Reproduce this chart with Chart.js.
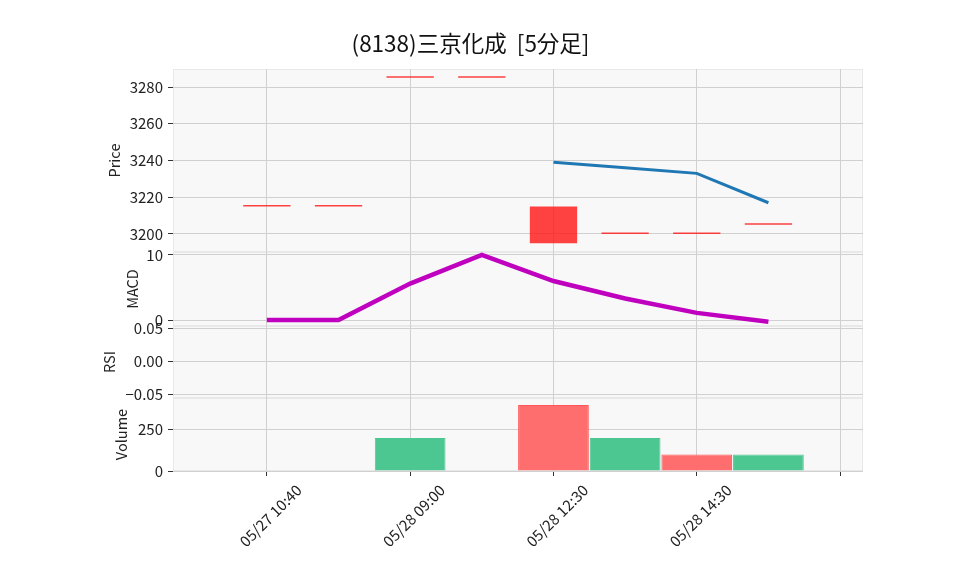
<!DOCTYPE html>
<html>
<head>
<meta charset="utf-8">
<script src="https://cdn.jsdelivr.net/npm/chart.js@4"></script>
<style>
  html, body { margin: 0; padding: 0; background: #fff; }
  #wrap { width: 958px; height: 575px; }
</style>
</head>
<body>
<div id="wrap"><canvas id="chart"></canvas></div>
<script>
// 5-minute candles, index 0..7
const openPrice  = [3215, 3215, 3285, 3285, 3215, 3200, 3200, 3205];
const closePrice = [3215, 3215, 3285, 3285, 3195, 3200, 3200, 3205];
const maLine     = [null, null, null, null, 3239, 3236, 3233, 3217];
const macdLine   = [0, 0, 5.6, 10, 6.0, 3.3, 1.1, -0.25];
const volume     = [0, 0, 200, 0, 400, 200, 100, 100];

const tickIndex  = [0, 2, 4, 6, 8];
const tickLabels = ['05/27 10:40', '05/28 09:00', '05/28 12:30', '05/28 14:30', ''];
const priceTicks = [3200, 3220, 3240, 3260, 3280];
const macdTicks  = [0, 10];
const rsiTicks   = [-0.05, 0, 0.05];
const volTicks   = [0, 250];

const FONT = "'Noto Sans CJK JP', 'Noto Sans', sans-serif";
const UP = '#4cc791';
const DOWN = '#ff6e6e';

const xy = arr => arr.map((v, i) => ({ x: i, y: v }));
const candleData = openPrice.map((o, i) => ({ x: i, y: [o, closePrice[i]] }));
const volColors = closePrice.map((c, i) => (i > 0 && c > closePrice[i - 1]) ? UP : DOWN);
const volBorders = volColors.map(c => c === UP ? UP : '#ff5555');

const panelBg = {
    id: 'panelBg',
    beforeDraw(chart) {
        const { ctx, chartArea } = chart;
        ctx.save();
        ctx.fillStyle = '#f8f8f8';
        ctx.fillRect(chartArea.left, chartArea.top, chartArea.right - chartArea.left, chartArea.bottom - chartArea.top);
        ctx.strokeStyle = '#e8e8e8';
        ctx.lineWidth = 1;
        ['yPrice', 'yMacd', 'yRsi', 'yVol'].forEach(id => {
            const s = chart.scales[id];
            ctx.strokeRect(chartArea.left + 0.5, s.top + 0.5, chartArea.right - chartArea.left - 1, s.bottom - s.top - 1);
        });
        ctx.restore();
    }
};

function yAxis(stackWeight, min, max, tickVals, title, titlePad, fmt) {
    return {
        type: 'linear',
        position: 'left',
        stack: 'panels',
        stackWeight: stackWeight,
        min: min,
        max: max,
        border: { display: false },
        grid: { color: '#d0d0d0', tickColor: '#333', tickLength: 5 },
        afterBuildTicks: s => { s.ticks = tickVals.map(v => ({ value: v })); },
        ticks: {
            padding: 5,
            color: '#222',
            font: { family: FONT, size: 15 },
            callback: fmt || (v => v)
        },
        title: {
            display: true,
            text: title,
            color: '#222',
            font: { family: FONT, size: 14.5 },
            padding: { top: titlePad, bottom: 0 }
        },
        afterFit: s => { s.width = 95; }
    };
}

new Chart(document.getElementById('chart').getContext('2d'), {
    type: 'bar',
    data: {
        datasets: [
            {
                type: 'line',
                data: xy(maLine),
                yAxisID: 'yPrice',
                borderColor: '#1f77b4',
                borderWidth: 3,
                pointRadius: 0,
                spanGaps: false
            },
            {
                type: 'line',
                data: xy(macdLine),
                yAxisID: 'yMacd',
                borderColor: '#bf00bf',
                borderWidth: 4.5,
                pointRadius: 0
            },
            {
                data: candleData,
                yAxisID: 'yPrice',
                grouped: false,
                barPercentage: 0.66,
                categoryPercentage: 1,
                minBarLength: 1.5,
                backgroundColor: 'rgba(255,20,20,0.8)',
                borderWidth: 0
            },
            {
                data: xy(volume),
                yAxisID: 'yVol',
                grouped: false,
                barPercentage: 0.987,
                categoryPercentage: 1,
                backgroundColor: volColors,
                borderColor: volBorders,
                borderWidth: 1
            }
        ]
    },
    options: {
        responsive: true,
        maintainAspectRatio: false,
        animation: false,
        events: [],
        layout: { padding: { left: 78, right: 95, top: 0, bottom: 0 } },
        plugins: {
            legend: { display: false },
            tooltip: { enabled: false },
            title: {
                display: true,
                text: '(8138)三京化成  [5分足]',
                color: '#111',
                font: { family: FONT, size: 22.5, weight: 'normal' },
                padding: { top: 30, bottom: 12 }
            }
        },
        scales: {
            x: {
                type: 'linear',
                min: -1.31,
                max: 8.32,
                offset: false,
                border: { display: false },
                grid: { offset: false, color: '#d0d0d0', tickColor: '#333', tickLength: 5 },
                afterBuildTicks: s => { s.ticks = tickIndex.map(v => ({ value: v })); },
                ticks: {
                    autoSkip: false,
                    maxRotation: 45,
                    minRotation: 45,
                    padding: 5,
                    labelOffset: 32,
                    color: '#222',
                    font: { family: FONT, size: 15 },
                    callback: (v, i) => tickLabels[i]
                },
                afterFit: s => { s.height = 104; }
            },
            // stacked panels are laid out bottom-up, so the bottom one comes first
            yVol: yAxis(73, 0, 442, volTicks, 'Volume', 35),
            yRsi: yAxis(72, -0.055, 0.053, rsiTicks, 'RSI', 23,
                v => v.toFixed(2).replace('-', '\u2212')),
            yMacd: yAxis(74, -0.92, 10.46, macdTicks, 'MACD', 46),
            yPrice: yAxis(183, 3190.2, 3289.8, priceTicks, 'Price', 28)
        }
    },
    plugins: [panelBg]
});
</script>
</body>
</html>
